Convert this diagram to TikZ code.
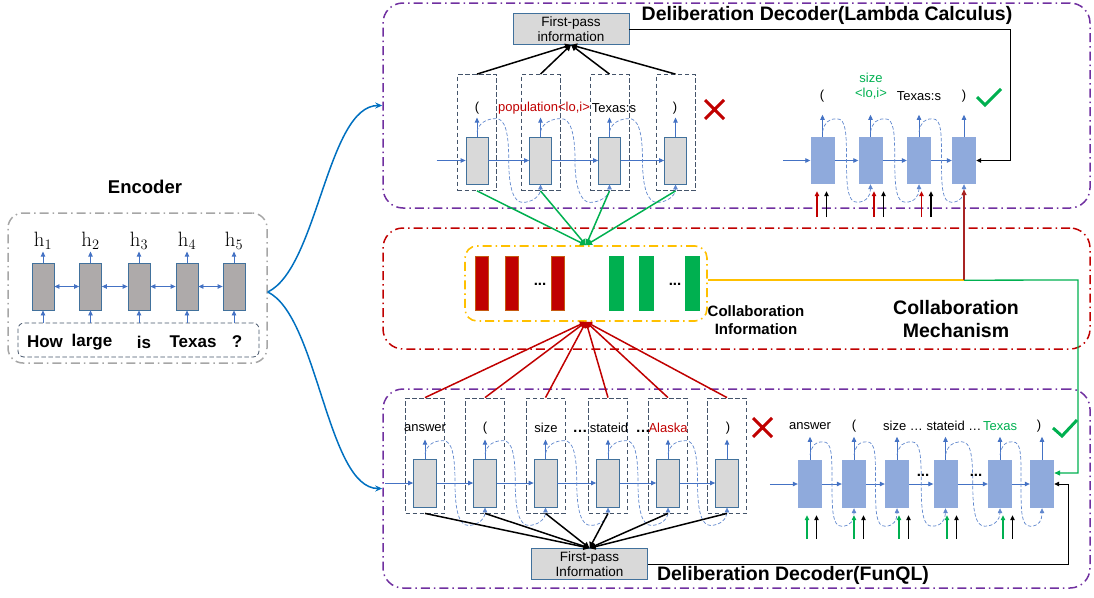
\documentclass[tikz,border=0pt]{standalone}
\usepackage[no-math]{fontspec}
\setmainfont{Liberation Sans}
\usetikzlibrary{arrows.meta,calc}

\definecolor{purp}{HTML}{7030A0}
\definecolor{cred}{HTML}{C00000}
\definecolor{dred}{HTML}{A82424}
\definecolor{cbrn}{HTML}{C55A11}
\definecolor{cyel}{HTML}{FFC000}
\definecolor{cgrn}{HTML}{00B050}
\definecolor{cblu}{HTML}{4472C4}
\definecolor{cdblu}{HTML}{41719C}
\definecolor{lblu}{HTML}{8FAADC}
\definecolor{slate}{HTML}{44546A}
\definecolor{curveblue}{HTML}{0070C0}
\definecolor{egray}{HTML}{AEAAAA}
\definecolor{fgray}{HTML}{D9D9D9}
\definecolor{framegray}{HTML}{A6A6A6}

\tikzset{
  frame/.style={draw, rounded corners=20pt, line width=1.5pt, dash pattern=on 9pt off 4pt on 1.5pt off 4pt, inner sep=0pt, minimum width=707pt},
  ecell/.style={draw=cdblu, fill=egray, line width=0.8pt, minimum width=22pt, minimum height=47pt, inner sep=0pt},
  gcell/.style={draw=cdblu, fill=fgray, line width=0.8pt, minimum width=22pt, minimum height=47pt, inner sep=0pt},
  bcell/.style={fill=lblu, minimum width=24pt, minimum height=47pt, inner sep=0pt},
  wbox/.style={draw=slate, dash pattern=on 4.5pt off 2.5pt, line width=0.8pt, minimum width=39pt, minimum height=116pt, inner sep=0pt},
  inbox/.style={draw=slate, dash pattern=on 4.5pt off 2.5pt, rounded corners=6pt, line width=0.8pt, minimum width=241pt, minimum height=34pt, inner sep=0pt},
  ybox/.style={draw=cyel, rounded corners=12pt, line width=1.6pt, dash pattern=on 9pt off 4pt on 1.5pt off 4pt, minimum width=242pt, minimum height=75pt, inner sep=0pt},
  rbar/.style={fill=cred, draw=cbrn, line width=1pt, minimum width=13pt, minimum height=54pt, inner sep=0pt},
  gbar/.style={fill=cgrn, minimum width=15pt, minimum height=55pt, inner sep=0pt},
  fpbox/.style={draw=cdblu, fill=fgray, line width=0.8pt, minimum width=116pt, minimum height=31pt, inner sep=0pt, align=center, font=\fontsize{13.5}{14.5}\selectfont},
  lbl/.style={inner sep=0pt, font=\fontsize{13}{15}\selectfont},
  hlbl/.style={inner sep=0pt, font=\fontsize{20}{22}\selectfont},
  word/.style={inner sep=0pt, font=\bfseries\fontsize{17}{20}\selectfont},
  dotsl/.style={inner sep=0pt, font=\bfseries\fontsize{15}{17}\selectfont},
  ttl/.style={inner sep=0pt, align=center, font=\bfseries\fontsize{19.5}{23}\selectfont},
  sub/.style={inner sep=0pt, align=center, font=\bfseries\fontsize{15}{18}\selectfont},
  barrow/.style={draw=cblu, line width=0.8pt, -{Triangle[length=5pt,width=4.5pt]}},
  bibarrow/.style={draw=cblu, line width=0.8pt, {Triangle[length=5pt,width=4.5pt]}-{Triangle[length=5pt,width=4.5pt]}},
  loopd/.style={draw=cblu!85, dash pattern=on 3.5pt off 2pt, line width=0.7pt, -{Triangle[length=5pt,width=4.5pt]}},
  kar/.style={line width=1.5pt, -{Triangle[length=6pt,width=6pt]}},
  gar/.style={draw=cgrn, line width=1.5pt, -{Triangle[length=6pt,width=6pt]}},
  rar/.style={draw=cred, line width=1.5pt, -{Triangle[length=6pt,width=6pt]}},
  pr/.style={line width=1.2pt, -{Triangle[length=5pt,width=4.5pt]}},
  thinar/.style={line width=0.8pt, -{Triangle[length=5pt,width=4.5pt]}},
  curv/.style={draw=curveblue, line width=1.5pt, -{Stealth[length=7pt,width=6pt]}},
  xmark/.style={draw=cred, line width=3pt},
  chk/.style={draw=cgrn, line width=3pt},
}

% dashed loop from one cell to the next
\newcommand{\dloop}[2]{%
  \draw[loopd] ($(#1.north)+(0,-5)$)
    .. controls +(2,-9) and +(-9,0) .. ($(#1.north)!0.3!(#2.north)+(0,-18)$)
    .. controls +(9,0) and +(0,-28) .. ($(#1.east)!0.5!(#2.west)$)
    .. controls +(0,28) and +(-9,0) .. ($(#1.south)!0.72!(#2.south)+(0,18)$)
    .. controls +(9,0) and +(0,12) .. (#2.south);}

\begin{document}
\begin{tikzpicture}[x=1pt,y=-1pt]
\useasboundingbox (0,0) rectangle (1094,597);

% Frames
\node[frame, draw=framegray, rounded corners=15pt, minimum width=259pt, minimum height=150pt] (encbox) at (137.5,288) {};
\node[frame, draw=purp, minimum height=205pt] (topbox) at (736.5,105.5) {};
\node[frame, draw=cred, minimum height=121pt] (colbox) at (736.5,288.5) {};
\node[frame, draw=purp, minimum height=199pt] (botbox) at (736.5,488.5) {};

% Titles
\node[ttl, font=\bfseries\fontsize{18.5}{22}\selectfont] (tEnc) at (145,187) {Encoder};
\node[ttl] (tLam) at (827,15) {Deliberation Decoder(Lambda Calculus)};
\node[ttl] (tFun) at (793,575) {Deliberation Decoder(FunQL)};
\node[ttl] (tCol) at (956,319) {Collaboration\\Mechanism};
\node[sub] (tInf) at (756,320) {Collaboration\\Information};

% Encoder
\node[inbox] (inp) at (138.5,340) {};
\foreach \i/\x in {1/43,2/90.5,3/139,4/187,5/234} {
  \node[ecell] (e\i) at (\x,286.5) {};
  \node[hlbl] (h\i) at (\x,241) {$\mathrm{h}_{\i}$};
  \draw[barrow] (e\i.north) -- ++(0,-11);
  \draw[barrow] (e\i |- inp.north) -- (e\i.south);
}
\foreach \i/\j in {1/2,2/3,3/4,4/5} \draw[bibarrow] (e\i.east) -- (e\j.west);
\foreach \w/\x/\n in {How/45/w1,large/92/w2,is/144/w3,Texas/193/w4,?/237/w5}
  \node[word] (\n) at (\x,342) {\w};

% Top decoder, first pass
\foreach \i/\x in {1/477,2/540.5,3/609.5,4/675.5} {
  \node[wbox] (tb\i) at (\x,132.5) {};
  \node[gcell] (tc\i) at (\x,160.5) {};
  \draw[barrow] (tc\i.north) -- ++(0,-19);
}
\draw[barrow] ($(tc1.west)+(-29,0)$) -- (tc1.west);
\foreach \i/\j in {1/2,2/3,3/4} {
  \draw[barrow] (tc\i.east) -- (tc\j.west);
  \dloop{tc\i}{tc\j}
}
\node[lbl] (tl1) at (477,108) {(};
\node[lbl, text=cred] (tl2) at (544,108) {population<lo,i>};
\node[lbl] (tl3) at (614,108) {Texas:s};
\node[lbl] (tl4) at (675,108) {)};
\draw[xmark] (705,100) -- (724,119) (724,100) -- (705,119);
\node[fpbox] (fpT) at (571,29) {First-pass\\information};
\foreach \i in {1,...,4} \draw[kar] (tb\i.north) -- (fpT.south);

% Top decoder, second pass
\foreach \i/\x in {1/822.5,2/870.5,3/919,4/964} {
  \node[bcell] (rt\i) at (\x,160.5) {};
  \draw[barrow] (rt\i.north) -- ++(0,-22);
}
\draw[barrow] ($(rt1.west)+(-27,0)$) -- (rt1.west);
\foreach \i/\j in {1/2,2/3,3/4} {
  \draw[barrow] (rt\i.east) -- (rt\j.west);
  \dloop{rt\i}{rt\j}
}
\node[lbl] (rl1) at (822,96) {(};
\node[lbl, text=cgrn] (rl2) at (871,78) {size};
\node[lbl, text=cgrn] (rl3) at (871,94) {<lo,i>};
\node[lbl] (rl4) at (919,96) {Texas:s};
\node[lbl] (rl5) at (964,96) {)};
\draw[chk] (977,97) -- (985,105) -- (1001,89);
\foreach \c/\o in {rt1/-5.5,rt2/3.5,rt3/2.5} {
  \draw[pr, cred] ($(\c.south)+(\o,33)$) -- ++(0,-26);
  \draw[pr] ($(\c.south)+(\o+9.5,33)$) -- ++(0,-26);
}
\draw[thinar] (fpT.east) -| ($(rt4.east)+(34,0)$) -- (rt4.east);

% Collaboration
\node[ybox] (cinfo) at (586,283.5) {};
\foreach \i/\x in {1/482,2/511.5,3/558} \node[rbar] (r\i) at (\x,283.5) {};
\foreach \i/\x in {1/616.5,2/646.5,3/692.5} \node[gbar] (g\i) at (\x,283.5) {};
\node[dotsl] (d1) at (540,284) {...};
\node[dotsl] (d2) at (675,284) {...};
\coordinate (yj) at ($(rt4.south)+(0,96)$);
\coordinate (gj) at (1078,280);
\draw[cyel, line width=2.5pt] (cinfo.east |- yj) -- (yj);
\draw[dred, line width=1.3pt, -{Triangle[length=6pt,width=5pt]}] (yj) -- ($(rt4.south)+(0,5)$);
\foreach \i in {1,...,4} \draw[gar] (tb\i.south) -- (cinfo.north);

% Bottom decoder, first pass
\foreach \i/\x in {1/425,2/485,3/545.5,4/608,5/668,6/727} {
  \node[wbox, minimum height=115pt] (bb\i) at (\x,455.5) {};
  \node[gcell, minimum width=23pt, minimum height=48pt] (bc\i) at (\x,483) {};
  \draw[barrow] (bc\i.north) -- ++(0,-19);
}
\draw[barrow] ($(bc1.west)+(-28,0)$) -- (bc1.west);
\foreach \i/\j in {1/2,2/3,3/4,4/5,5/6} {
  \draw[barrow] (bc\i.east) -- (bc\j.west);
  \dloop{bc\i}{bc\j}
}
\node[lbl] (bl1) at (425,428) {answer};
\node[lbl] (bl2) at (485,428) {(};
\node[lbl] (bl3) at (546,428) {size};
\node[lbl] (bl4) at (609,428) {stateid};
\node[lbl, text=cred] (bl5) at (668,428) {Alaska};
\node[lbl] (bl6) at (728,428) {)};
\node[dotsl] (bd1) at (580,431) {…};
\node[dotsl] (bd2) at (643,431) {…};
\draw[xmark] (753,418) -- (772,437) (772,418) -- (753,437);
\node[fpbox] (fpB) at (589.5,564) {First-pass\\Information};
\foreach \i in {1,...,6} {
  \draw[kar] (bb\i.south) -- (fpB.north);
  \draw[rar] (bb\i.north) -- (cinfo.south);
}

% Bottom decoder, second pass
\foreach \i/\x in {1/810,2/854,3/897,4/945.5,5/1000,6/1042} {
  \node[bcell, minimum height=48pt] (rb\i) at (\x,484) {};
  \draw[barrow] (rb\i.north) -- ++(0,-23);
}
\draw[barrow] ($(rb1.west)+(-28,0)$) -- (rb1.west);
\foreach \i/\j in {1/2,2/3,3/4,4/5,5/6} {
  \draw[barrow] (rb\i.east) -- (rb\j.west);
  \dloop{rb\i}{rb\j}
}
\node[lbl] (sl1) at (810,426) {answer};
\node[lbl] (sl2) at (854,426) {(};
\node[lbl, anchor=west] (sl3) at (883,426) {size … stateid …};
\node[lbl, text=cgrn] (sl4) at (1000,426) {Texas};
\node[lbl] (sl5) at (1039,426) {)};
\node[dotsl] (sd1) at (923,475) {...};
\node[dotsl] (sd2) at (976,475) {...};
\draw[chk] (1053,428) -- (1062,436) -- (1077,420);
\foreach \c/\o in {rb1/-3,rb2/0,rb3/2,rb4/1.5,rb5/3} {
  \draw[pr, cgrn] ($(\c.south)+(\o,31)$) -- ++(0,-24);
  \draw[pr] ($(\c.south)+(\o+9.5,31)$) -- ++(0,-24);
}
\draw[thinar] (fpB.east) -| ($(rb6.east)+(14,0)$) -- (rb6.east);
\draw[cgrn, line width=1.3pt, -{Triangle[length=6pt,width=5pt]}] (yj) -- (gj) |- ($(rb6.east)+(0,-11)$);

% Encoder to decoders
\draw[curv] ($(encbox.east)+(0,4)$) .. controls +(50,-24) and +(-55,0) .. (topbox.west);
\draw[curv] ($(encbox.east)+(0,4)$) .. controls +(50,24) and +(-55,0) .. (botbox.west);
\end{tikzpicture}
\end{document}
